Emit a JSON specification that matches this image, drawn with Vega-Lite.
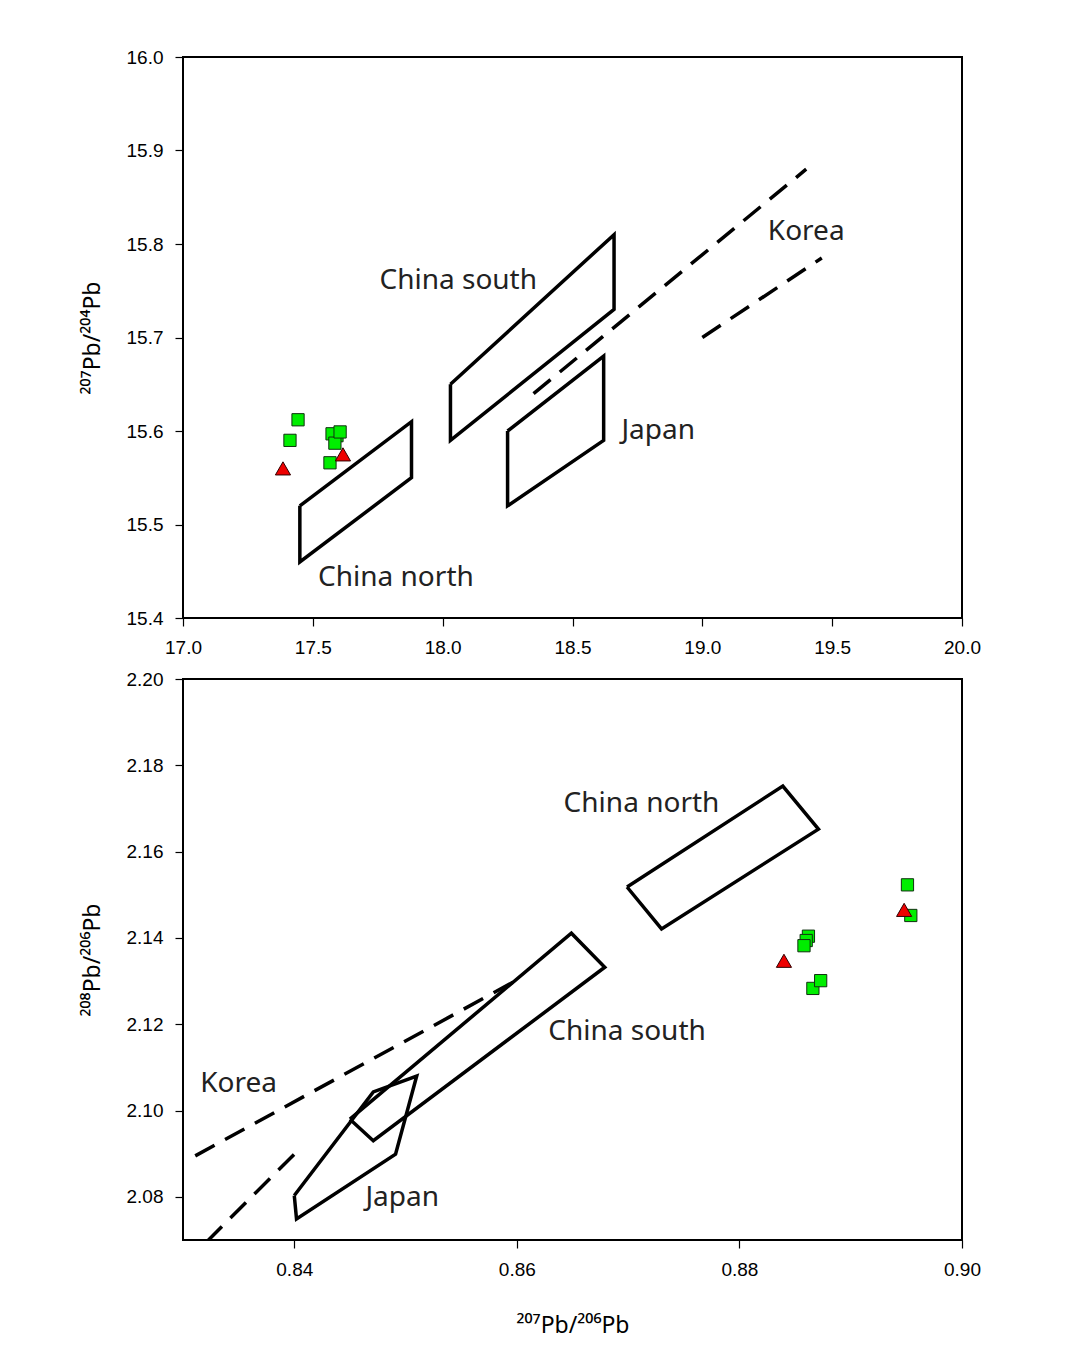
{
  "$schema": "https://vega.github.io/schema/vega-lite/v6.json",
  "background": "white",
  "padding": {"left": 80, "top": 47, "right": 5, "bottom": 5},
  "spacing": 11,
  "config": {
    "view": {"stroke": "black", "strokeWidth": 2},
    "axis": {
      "domain": false, "grid": false, "ticks": true, "tickColor": "black", "tickWidth": 1.2, "tickSize": 8,
      "labelFont": "Liberation Sans", "labelFontSize": 19, "labelColor": "black", "labelPadding": 12,
      "labelFlush": false, "labelOverlap": false,
      "titleFont": "Noto Sans", "titleFontSize": 23, "titleFontWeight": "normal", "titleColor": "black"
    },
    "axisY": {"titlePadding": 22},
    "axisX": {"titlePadding": 35}
  },
  "datasets": {
    "topPoly": [
      {"shape": "China north", "i": 0, "x": 17.45, "y": 15.52},
      {"shape": "China north", "i": 1, "x": 17.88, "y": 15.61},
      {"shape": "China north", "i": 2, "x": 17.88, "y": 15.55},
      {"shape": "China north", "i": 3, "x": 17.45, "y": 15.46},
      {"shape": "China north", "i": 4, "x": 17.45, "y": 15.52},
      {"shape": "China south", "i": 0, "x": 18.03, "y": 15.65},
      {"shape": "China south", "i": 1, "x": 18.66, "y": 15.81},
      {"shape": "China south", "i": 2, "x": 18.66, "y": 15.73},
      {"shape": "China south", "i": 3, "x": 18.03, "y": 15.59},
      {"shape": "China south", "i": 4, "x": 18.03, "y": 15.65},
      {"shape": "Japan", "i": 0, "x": 18.25, "y": 15.60},
      {"shape": "Japan", "i": 1, "x": 18.62, "y": 15.68},
      {"shape": "Japan", "i": 2, "x": 18.62, "y": 15.59},
      {"shape": "Japan", "i": 3, "x": 18.25, "y": 15.52},
      {"shape": "Japan", "i": 4, "x": 18.25, "y": 15.60}
    ],
    "topDash": [
      {"line": "Korea upper", "i": 0, "x": 18.35, "y": 15.64},
      {"line": "Korea upper", "i": 1, "x": 19.40, "y": 15.88},
      {"line": "Korea lower", "i": 0, "x": 19.00, "y": 15.70},
      {"line": "Korea lower", "i": 1, "x": 19.46, "y": 15.785}
    ],
    "topPts": [
      {"type": "square", "x": 17.443, "y": 15.612},
      {"type": "square", "x": 17.412, "y": 15.590},
      {"type": "square", "x": 17.566, "y": 15.566},
      {"type": "square", "x": 17.593, "y": 15.595},
      {"type": "square", "x": 17.574, "y": 15.597},
      {"type": "square", "x": 17.585, "y": 15.587},
      {"type": "square", "x": 17.605, "y": 15.599},
      {"type": "triangle", "x": 17.385, "y": 15.560},
      {"type": "triangle", "x": 17.616, "y": 15.575}
    ],
    "topLabels": [
      {"label": "Korea", "x": 19.40, "y": 15.813},
      {"label": "China south", "x": 18.06, "y": 15.76},
      {"label": "Japan", "x": 18.83, "y": 15.60},
      {"label": "China north", "x": 17.82, "y": 15.443}
    ],
    "botPoly": [
      {"shape": "China north", "i": 0, "x": 0.8699, "y": 2.1518},
      {"shape": "China north", "i": 1, "x": 0.8839, "y": 2.1752},
      {"shape": "China north", "i": 2, "x": 0.8871, "y": 2.1652},
      {"shape": "China north", "i": 3, "x": 0.8730, "y": 2.1421},
      {"shape": "China north", "i": 4, "x": 0.8699, "y": 2.1518},
      {"shape": "China south", "i": 0, "x": 0.8450, "y": 2.0980},
      {"shape": "China south", "i": 1, "x": 0.8649, "y": 2.1411},
      {"shape": "China south", "i": 2, "x": 0.8679, "y": 2.1332},
      {"shape": "China south", "i": 3, "x": 0.8471, "y": 2.0930},
      {"shape": "China south", "i": 4, "x": 0.8450, "y": 2.0980},
      {"shape": "Japan", "i": 0, "x": 0.8400, "y": 2.0803},
      {"shape": "Japan", "i": 1, "x": 0.8402, "y": 2.0749},
      {"shape": "Japan", "i": 2, "x": 0.8491, "y": 2.0899},
      {"shape": "Japan", "i": 3, "x": 0.8510, "y": 2.1080},
      {"shape": "Japan", "i": 4, "x": 0.8471, "y": 2.1043},
      {"shape": "Japan", "i": 5, "x": 0.8400, "y": 2.0803}
    ],
    "botDash": [
      {"line": "Korea upper", "i": 0, "x": 0.8311, "y": 2.0895},
      {"line": "Korea upper", "i": 1, "x": 0.8597, "y": 2.1298},
      {"line": "Korea lower", "i": 0, "x": 0.8321, "y": 2.0695},
      {"line": "Korea lower", "i": 1, "x": 0.8402, "y": 2.0904}
    ],
    "botPts": [
      {"type": "square", "x": 0.8951, "y": 2.1523},
      {"type": "square", "x": 0.8954, "y": 2.1452},
      {"type": "square", "x": 0.8862, "y": 2.1404},
      {"type": "square", "x": 0.8860, "y": 2.1394},
      {"type": "square", "x": 0.8858, "y": 2.1382},
      {"type": "square", "x": 0.8866, "y": 2.1283},
      {"type": "square", "x": 0.8873, "y": 2.1301},
      {"type": "triangle", "x": 0.8840, "y": 2.1347},
      {"type": "triangle", "x": 0.8948, "y": 2.1465}
    ],
    "botLabels": [
      {"label": "China north", "x": 0.8712, "y": 2.1710},
      {"label": "China south", "x": 0.8699, "y": 2.1182},
      {"label": "Korea", "x": 0.8350, "y": 2.1061},
      {"label": "Japan", "x": 0.8497, "y": 2.0797}
    ]
  },
  "vconcat": [
    {
      "width": 779,
      "height": 561,
      "encoding": {
        "x": {"field": "x", "type": "quantitative", "scale": {"domain": [17, 20], "nice": false, "zero": false},
              "axis": {"title": null, "values": [17, 17.5, 18, 18.5, 19, 19.5, 20], "format": ".1f"}},
        "y": {"field": "y", "type": "quantitative", "scale": {"domain": [15.4, 16.0], "nice": false, "zero": false},
              "axis": {"title": "²⁰⁷Pb/²⁰⁴Pb", "values": [15.4, 15.5, 15.6, 15.7, 15.8, 15.9, 16.0], "format": ".1f"}}
      },
      "layer": [
        {
          "data": {"name": "topPoly"},
          "mark": {"type": "line", "color": "black", "strokeWidth": 3.5, "strokeJoin": "miter"},
          "encoding": {"detail": {"field": "shape"}, "order": {"field": "i", "type": "quantitative"}}
        },
        {
          "data": {"name": "topDash"},
          "mark": {"type": "line", "color": "black", "strokeWidth": 3.5, "strokeDash": [22, 12]},
          "encoding": {"detail": {"field": "line"}, "order": {"field": "i", "type": "quantitative"}}
        },
        {
          "data": {"name": "topLabels"},
          "mark": {"type": "text", "font": "Noto Sans", "fontSize": 28, "color": "#222222", "align": "center", "baseline": "middle"},
          "encoding": {"text": {"field": "label"}}
        },
        {
          "data": {"name": "topPts"},
          "transform": [{"filter": "datum.type === 'square'"}],
          "mark": {"type": "point", "shape": "square", "filled": true, "fill": "#00EE00", "stroke": "#103010", "strokeWidth": 1, "size": 150, "opacity": 1}
        },
        {
          "data": {"name": "topPts"},
          "transform": [{"filter": "datum.type === 'triangle'"}],
          "mark": {"type": "point", "shape": "triangle-up", "filled": true, "fill": "#EE0000", "stroke": "#300000", "strokeWidth": 1, "size": 230, "opacity": 1}
        }
      ]
    },
    {
      "width": 779,
      "height": 561,
      "encoding": {
        "x": {"field": "x", "type": "quantitative", "scale": {"domain": [0.83, 0.90], "nice": false, "zero": false},
              "axis": {"title": "²⁰⁷Pb/²⁰⁶Pb", "values": [0.84, 0.86, 0.88, 0.90], "format": ".2f"}},
        "y": {"field": "y", "type": "quantitative", "scale": {"domain": [2.07, 2.20], "nice": false, "zero": false},
              "axis": {"title": "²⁰⁸Pb/²⁰⁶Pb", "values": [2.08, 2.10, 2.12, 2.14, 2.16, 2.18, 2.20], "format": ".2f"}}
      },
      "layer": [
        {
          "data": {"name": "botPoly"},
          "mark": {"type": "line", "color": "black", "strokeWidth": 3.5, "strokeJoin": "miter"},
          "encoding": {"detail": {"field": "shape"}, "order": {"field": "i", "type": "quantitative"}}
        },
        {
          "data": {"name": "botDash"},
          "mark": {"type": "line", "color": "black", "strokeWidth": 3.5, "strokeDash": [22, 12], "clip": true},
          "encoding": {"detail": {"field": "line"}, "order": {"field": "i", "type": "quantitative"}}
        },
        {
          "data": {"name": "botLabels"},
          "mark": {"type": "text", "font": "Noto Sans", "fontSize": 28, "color": "#222222", "align": "center", "baseline": "middle"},
          "encoding": {"text": {"field": "label"}}
        },
        {
          "data": {"name": "botPts"},
          "transform": [{"filter": "datum.type === 'square'"}],
          "mark": {"type": "point", "shape": "square", "filled": true, "fill": "#00EE00", "stroke": "#103010", "strokeWidth": 1, "size": 150, "opacity": 1}
        },
        {
          "data": {"name": "botPts"},
          "transform": [{"filter": "datum.type === 'triangle'"}],
          "mark": {"type": "point", "shape": "triangle-up", "filled": true, "fill": "#EE0000", "stroke": "#300000", "strokeWidth": 1, "size": 230, "opacity": 1}
        }
      ]
    }
  ]
}
